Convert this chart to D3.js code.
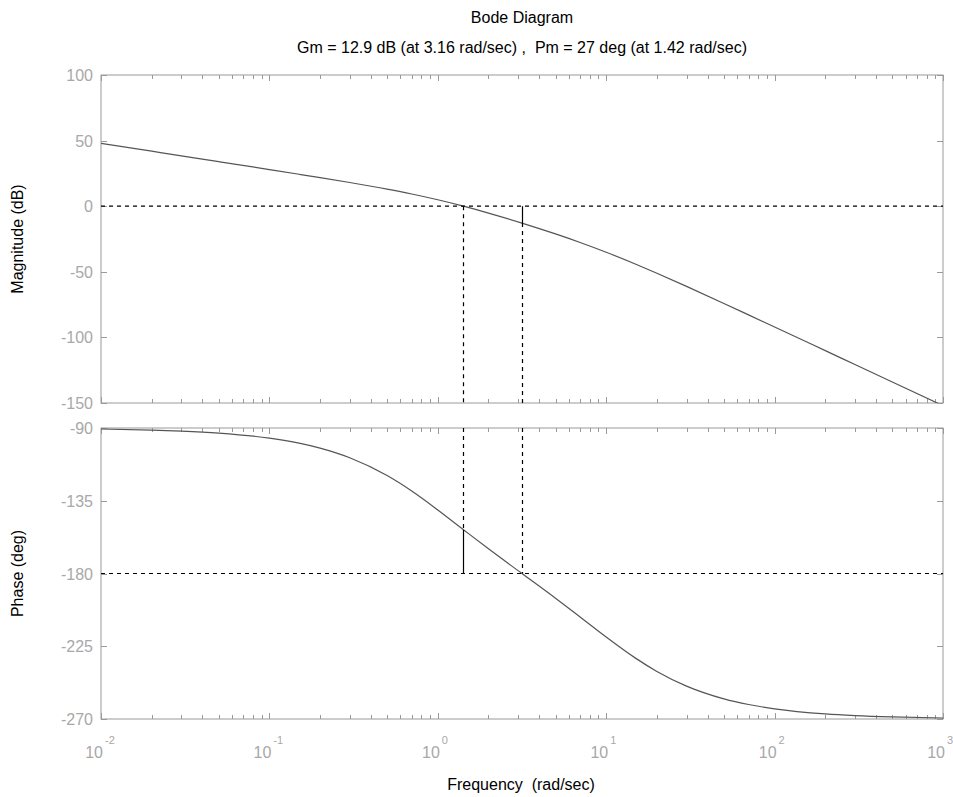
<!DOCTYPE html>
<html>
<head>
<meta charset="utf-8">
<script src="https://cdn.jsdelivr.net/npm/d3@7"></script>
<style>
  body { margin: 0; background: #fff; }
  text { font-family: Arial, "Liberation Sans", sans-serif; }
</style>
</head>
<body>
<div id="chart"></div>
<script>
// values
var freq = [0.01, 0.02, 0.03, 0.05, 0.1, 0.15, 0.2, 0.3, 0.5, 0.7, 1, 1.42, 2, 3.16, 5, 7, 10, 15, 20, 30, 50, 70, 100, 200, 300, 500, 1000];
var magDb = [47.96, 41.94, 38.41, 33.97, 27.92, 24.34, 21.77, 18.04, 13.00, 9.30, 4.91, 0.03, -5.22, -12.86, -21.14, -27.67, -35.09, -44.22, -51.08, -61.13, -74.15, -82.84, -92.08, -110.11, -120.67, -133.98, -152.04];
var phaseDeg = [-90.63, -91.26, -91.89, -93.15, -96.28, -99.39, -102.46, -108.42, -119.43, -128.99, -140.71, -152.92, -164.74, -179.98, -195.26, -206.86, -219.29, -232.50, -240.57, -249.66, -257.54, -261.05, -263.72, -266.85, -267.90, -268.74, -269.37];

var magTicks = [100, 50, 0, -50, -100, -150];
var phaseTicks = [-90, -135, -180, -225, -270];
var decadeExp = [-2, -1, 0, 1, 2, 3];

var gmDb = 12.9, gmFreq = 3.16;
var pmDeg = 27, pmFreq = 1.42;

var width = 953, height = 797;
var left = 101, right = 943;
var magTop = 75, magBottom = 403;
var phTop = 428, phBottom = 719;
var tickGray = '#a8a8a8';
var boxGray = '#9a9a9a';

var svg = d3.select('#chart').append('svg')
    .attr('width', width)
    .attr('height', height);

var x = d3.scaleLog().domain([1e-2, 1e3]).range([left, right]);
var yMag = d3.scaleLinear().domain([-150, 100]).range([magBottom, magTop]);
var yPh = d3.scaleLinear().domain([-270, -90]).range([phBottom, phTop]);

// minor/major log ticks
var logTicks = [];
decadeExp.forEach(function(e){
    for(var k = 1; k < 10; k++){
        var v = k * Math.pow(10, e);
        if(v <= 1e3 + 1e-9) logTicks.push({v: v, major: k === 1});
    }
});

svg.append('defs').selectAll('clipPath')
    .data([['clipMag', magTop, magBottom], ['clipPh', phTop, phBottom]])
    .enter().append('clipPath')
    .attr('id', function(d){ return d[0]; })
    .append('rect')
    .attr('x', left).attr('y', function(d){ return d[1]; })
    .attr('width', right - left)
    .attr('height', function(d){ return d[2] - d[1]; });

function drawPanel(y, ticks, top, bottom, values, clipId){
    var g = svg.append('g');

    // frame
    g.append('rect')
        .attr('x', left).attr('y', top)
        .attr('width', right - left).attr('height', bottom - top)
        .attr('fill', 'none')
        .attr('stroke', boxGray)
        .attr('stroke-width', 1);

    // x ticks top & bottom, pointing inward
    logTicks.forEach(function(t){
        var px = Math.round(x(t.v)) + 0.5;
        var len = t.major ? 6 : 4;
        g.append('line').attr('x1', px).attr('x2', px)
            .attr('y1', bottom).attr('y2', bottom - len)
            .attr('stroke', boxGray);
        g.append('line').attr('x1', px).attr('x2', px)
            .attr('y1', top).attr('y2', top + len)
            .attr('stroke', boxGray);
    });

    // y ticks left & right
    ticks.forEach(function(t){
        var py = Math.round(y(t)) + 0.5;
        g.append('line').attr('x1', left).attr('x2', left + 6)
            .attr('y1', py).attr('y2', py).attr('stroke', boxGray);
        g.append('line').attr('x1', right).attr('x2', right - 6)
            .attr('y1', py).attr('y2', py).attr('stroke', boxGray);
        g.append('text')
            .attr('x', left - 8)
            .attr('y', y(t) + 6)
            .attr('text-anchor', 'end')
            .attr('font-size', 16)
            .attr('fill', tickGray)
            .text(t);
    });

    var line = d3.line()
        .x(function(d, i){ return x(freq[i]); })
        .y(function(d){ return y(d); })
        .curve(d3.curveMonotoneX);

    g.append('path')
        .datum(values)
        .attr('clip-path', 'url(#' + clipId + ')')
        .attr('d', line)
        .attr('fill', 'none')
        .attr('stroke', '#555')
        .attr('stroke-width', 1.2);

    return g;
}

var gMag = drawPanel(yMag, magTicks, magTop, magBottom, magDb, 'clipMag');
var gPh = drawPanel(yPh, phaseTicks, phTop, phBottom, phaseDeg, 'clipPh');

function seg(g, x1, y1, x2, y2, dashed){
    g.append('line')
        .attr('x1', x1).attr('y1', y1)
        .attr('x2', x2).attr('y2', y2)
        .attr('stroke', '#000')
        .attr('stroke-width', 1.2)
        .attr('stroke-dasharray', dashed ? '4,4' : null);
}

// margin markers
var xPm = Math.round(x(pmFreq)) + 0.5;
var xGm = Math.round(x(gmFreq)) + 0.5;

seg(gMag, left, yMag(0), right, yMag(0), true);
seg(gMag, xPm, yMag(0), xPm, magBottom, true);
seg(gMag, xGm, yMag(-gmDb), xGm, magBottom, true);
seg(gMag, xGm, yMag(0), xGm, yMag(-gmDb), false);

seg(gPh, left, yPh(-180), right, yPh(-180), true);
seg(gPh, xGm, phTop, xGm, yPh(-180), true);
seg(gPh, xPm, phTop, xPm, yPh(-180 + pmDeg), true);
seg(gPh, xPm, yPh(-180 + pmDeg), xPm, yPh(-180), false);

// decade labels 10^n
decadeExp.forEach(function(e){
    var px = x(Math.pow(10, e));
    svg.append('text')
        .attr('x', px + 2)
        .attr('y', 758)
        .attr('text-anchor', 'end')
        .attr('font-size', 16)
        .attr('fill', tickGray)
        .text('10');
    svg.append('text')
        .attr('x', px + 4)
        .attr('y', 744)
        .attr('font-size', 11)
        .attr('fill', tickGray)
        .text(e);
});

// titles and labels
svg.append('text')
    .attr('x', 522).attr('y', 23)
    .attr('text-anchor', 'middle')
    .attr('font-size', 16)
    .text('Bode Diagram');
svg.append('text')
    .attr('x', 522).attr('y', 53)
    .attr('text-anchor', 'middle')
    .attr('font-size', 16)
    .attr('xml:space', 'preserve')
    .text('Gm = ' + gmDb + ' dB (at ' + gmFreq + ' rad/sec) ,  Pm = ' + pmDeg + ' deg (at ' + pmFreq + ' rad/sec)');

svg.append('text')
    .attr('transform', 'translate(23,' + ((magTop + magBottom) / 2) + ') rotate(-90)')
    .attr('text-anchor', 'middle')
    .attr('font-size', 16)
    .text('Magnitude (dB)');
svg.append('text')
    .attr('transform', 'translate(23,' + ((phTop + phBottom) / 2) + ') rotate(-90)')
    .attr('text-anchor', 'middle')
    .attr('font-size', 16)
    .text('Phase (deg)');
svg.append('text')
    .attr('x', 521).attr('y', 790)
    .attr('text-anchor', 'middle')
    .attr('font-size', 16)
    .attr('xml:space', 'preserve')
    .text('Frequency  (rad/sec)');
</script>
</body>
</html>
